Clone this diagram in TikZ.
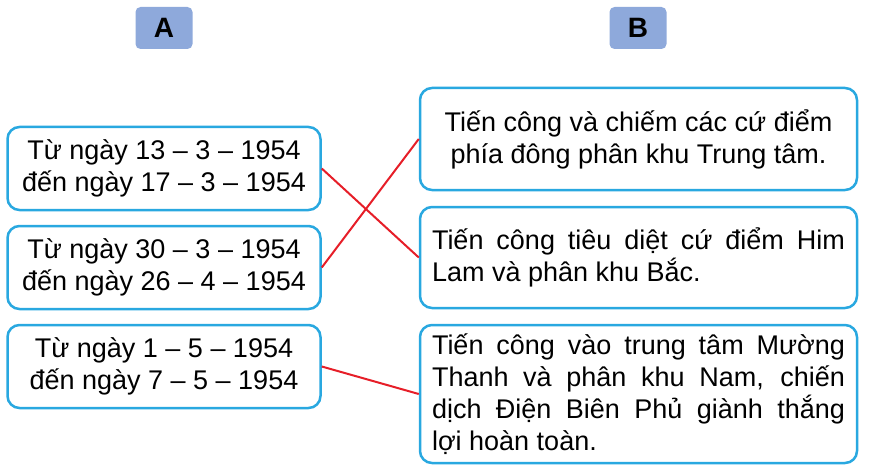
\documentclass[tikz,border=0pt]{standalone}
\usepackage{fontspec}
\setmainfont{Liberation Sans}
\usepackage{tikz}
\definecolor{boxblue}{RGB}{41,168,224}
\definecolor{headblue}{RGB}{142,169,219}
\definecolor{linkred}{RGB}{230,30,40}

\begin{document}
\begin{tikzpicture}[x=1pt,y=-1pt]
				\useasboundingbox (0,0) rectangle (869,473);
				\begin{scope}[every node/.style={rounded corners=5pt,fill=headblue,minimum width=57pt,minimum height=42pt,inner sep=0pt,font=\fontsize{28}{32}\selectfont\bfseries}]
					\node (col_A) at (164,28) {A};
					\node (col_B) at (638,28) {B};
				\end{scope}
				\begin{scope}[every node/.style={draw=boxblue,line width=2.5pt,rounded corners=12pt,inner sep=0pt,font=\fontsize{27}{32}\selectfont}]
					\node[minimum width=313pt,minimum height=83pt,align=center] (a_1) at (164,168.5) {Từ ngày 13 – 3 – 1954\\đến ngày 17 – 3 – 1954};
					\node[minimum width=313pt,minimum height=83pt,align=center] (a_2) at (164,267.5) {Từ ngày 30 – 3 – 1954\\đến ngày 26 – 4 – 1954};
					\node[minimum width=313pt,minimum height=83pt,align=center] (a_3) at (164,366.5) {Từ ngày 1 – 5 – 1954\\đến ngày 7 – 5 – 1954};

					\node[minimum width=437pt,minimum height=102pt,align=center] (b_1) at (638.5,139) {Tiến công và chiếm các cứ điểm\\phía đông phân khu Trung tâm.};
					\node[minimum width=437pt,minimum height=101pt,text width=413pt,align=justify] (b_2) at (638.5,257.5) {Tiến công tiêu diệt cứ điểm Him\linebreak Lam và phân khu Bắc.};
					\node[minimum width=437pt,minimum height=138pt,text width=413pt,align=justify] (b_3) at (638.5,394) {Tiến công vào trung tâm Mường\linebreak Thanh và phân khu Nam, chiến\linebreak dịch Điện Biên Phủ giành thắng\linebreak lợi hoàn toàn.};
				\end{scope}
				\begin{scope}[color=linkred,line width=2pt]
					\path (a_1.east) edge (b_2.west);
					\path (a_2.east) edge (b_1.west);
					\path (a_3.east) edge (b_3.west);
				\end{scope}
			\end{tikzpicture}
\end{document}
